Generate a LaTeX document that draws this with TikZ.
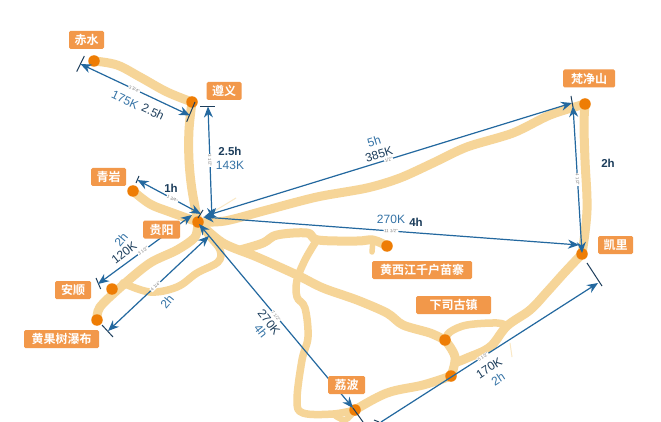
\documentclass[tikz,border=0pt]{standalone}
\usepackage{fontspec}
\setmainfont{Liberation Sans}
\newfontfamily\cjkf{Noto Sans CJK SC}[BoldFont={* Bold}]
\usetikzlibrary{arrows.meta}
\definecolor{roadc}{HTML}{F6D598}
\definecolor{dotc}{HTML}{EE7D05}
\definecolor{boxc}{HTML}{F2984A}
\definecolor{dimc}{HTML}{23689F}
\definecolor{txtd}{HTML}{1D3E5C}
\definecolor{txtb}{HTML}{3573A6}
\tikzset{
 road/.style={draw=roadc,line width=9pt,line cap=round,line join=round},
 faint/.style={draw=roadc!55,line width=1pt},
 city/.style={circle,fill=dotc,inner sep=0pt,minimum size=11.5pt},
 place/.style={fill=boxc,rounded corners=1.5pt,text=white,font=\cjkf\fontsize{12}{12}\selectfont\bfseries,inner sep=0pt,minimum height=18pt},
 dimline/.style={draw=dimc,line width=1.2pt,{Stealth[length=11pt,width=9pt]}-{Stealth[length=11pt,width=9pt]}},
 dimtick/.style={draw=txtd,line width=1pt},
 tinyl/.style={fill=white,text=gray,font=\fontsize{4.5}{5}\selectfont,inner sep=.6pt},
 valb/.style={font=\fontsize{12}{12}\selectfont,inner sep=0pt,text=txtb},
 vald/.style={font=\fontsize{12}{12}\selectfont,inner sep=0pt,text=txtd},
 valbold/.style={vald,font=\fontsize{11.5}{12}\selectfont\bfseries}
}
\begin{document}
\begin{tikzpicture}[x=1pt,y=-1pt]
\useasboundingbox[fill=white] (0,0) rectangle (661,422);
% cities
\coordinate (chishui) at (94,61);
\coordinate (zunyi) at (192,102);
\coordinate (qingyan) at (133,191);
\coordinate (guiyang) at (198,222);
\coordinate (anshun) at (112,289);
\coordinate (huangguoshu) at (97,320);
\coordinate (xijiang) at (387,246);
\coordinate (xiasi) at (445,340);
\coordinate (junction) at (451,376);
\coordinate (libo) at (355,410);
\coordinate (fanjing) at (585,104);
\coordinate (kaili) at (582,254);
% roads
\draw[road] plot[smooth,tension=.6] coordinates {(chishui) (117,65) (140,77) (167,92) (zunyi)};
\draw[road] plot[smooth,tension=.6] coordinates {(zunyi) (189,130) (189,160) (192,190) (guiyang)};
\draw[road] plot[smooth,tension=.6] coordinates {(qingyan) (150,204) (170,212) (guiyang)};
\draw[road] plot[smooth,tension=.5] coordinates {(guiyang) (225,221) (267,210) (317,197) (367,188) (400,178) (433,163) (467,147) (513,133) (550,115) (fanjing)};
\draw[road] plot[smooth,tension=.6] coordinates {(fanjing) (584,125) (585,160) (587,210) (kaili)};
\draw[road] plot[smooth,tension=.6] coordinates {(kaili) (565,272) (547,292) (530,310) (507,326) (490,347) (467,358) (457,362)};
\draw[road,line width=7.5pt] plot[smooth,tension=.6] coordinates {(507,326) (497,323) (467,325) (450,332) (xiasi)};
\draw[road] plot[smooth,tension=.6] coordinates {(xiasi) (455,357) (junction)};
\draw[road] plot[smooth,tension=.6] coordinates {(libo) (387,393) (423,385) (junction)};
\draw[road,line width=7.5pt] plot[smooth,tension=.6] coordinates {(libo) (333,414) (303,413) (297,400) (302,360) (308,337) (305,308) (297,297) (297,280) (305,260) (315,243)};
\draw[road,line width=6pt] plot[smooth,tension=.6] coordinates {(333,414) (345,420) (libo)};
\draw[road] plot[smooth,tension=.5] coordinates {(guiyang) (223,243) (257,257) (297,275) (323,288) (357,300) (387,313) (403,325) (430,333) (xiasi)};
\draw[road] plot[smooth,tension=.6] coordinates {(240,250) (263,243) (277,235) (307,233) (318,240) (357,241) (373,240) (xijiang)};
\draw[road,line width=5.5pt] plot[smooth,tension=.6] coordinates {(373,240) (372,252)};
\draw[road] plot[smooth,tension=.5] coordinates {(guiyang) (195,237) (177,250) (150,263) (123,285) (100,307) (huangguoshu)};
\draw[road,line width=7.5pt] plot[smooth,tension=.6] coordinates {(123,283) (150,292) (177,287) (197,273) (218,262) (220,250) (210,237) (guiyang)};
\draw[faint] (213,212) -- (236,198);
\draw[faint] (510,343) -- (512,357);
% city dots
\node[city] (nchishui) at (chishui) {};
\node[city] (nzunyi) at (zunyi) {};
\node[city] (nqingyan) at (qingyan) {};
\node[city] (nguiyang) at (guiyang) {};
\node[city] (nanshun) at (anshun) {};
\node[city] (nhuangguoshu) at (huangguoshu) {};
\node[city] (nxijiang) at (xijiang) {};
\node[city] (nxiasi) at (xiasi) {};
\node[city] (njunction) at (junction) {};
\node[city] (nlibo) at (libo) {};
\node[city] (nfanjing) at (fanjing) {};
\node[city] (nkaili) at (kaili) {};
% measure ends and ticks
\coordinate (a1) at (80.5,64); \coordinate (a2) at (190,115.5);
\coordinate (t1a) at (84.3,56); \coordinate (t1b) at (76.7,71.7);
\coordinate (t2a) at (195,102); \coordinate (t2b) at (186.7,121.7);
\coordinate (b1) at (208,106.5); \coordinate (b2) at (212,219);
\coordinate (t3a) at (200,106.3); \coordinate (t3b) at (214.7,106.3);
\coordinate (c1) at (137.5,180); \coordinate (c2) at (201,214);
\coordinate (t4a) at (139,176); \coordinate (t4b) at (136,183);
\coordinate (d1) at (192,215); \coordinate (d2) at (98,284);
\coordinate (t5a) at (96,278); \coordinate (t5b) at (100.7,289);
\coordinate (t6a) at (203,210); \coordinate (t6b) at (198,218);
\coordinate (e1) at (209,236); \coordinate (e2) at (108,331);
\coordinate (t7a) at (102,325); \coordinate (t7b) at (113,337);
\coordinate (f1) at (199,224); \coordinate (f2) at (353,408);
\coordinate (f3) at (363,422);
\coordinate (g2) at (598,283);
\coordinate (g1) at (381,422);
\coordinate (t8a) at (587,263); \coordinate (t8b) at (602,286);
\coordinate (t9a) at (374,420); \coordinate (t9b) at (379,422);
\coordinate (h1) at (205,216); \coordinate (h2) at (572,103);
\coordinate (t10a) at (571,96); \coordinate (t10b) at (573,107);
\coordinate (i1) at (203,217); \coordinate (i2) at (579,245);
\coordinate (j1) at (573,106); \coordinate (j2) at (582,253);
% measure lines
\draw[dimtick] (t1a) -- (t1b);
\draw[dimtick] (t2a) -- (t2b);
\draw[dimtick] (t3a) -- (t3b);
\draw[dimtick] (t4a) -- (t4b);
\draw[dimtick] (t5a) -- (t5b);
\draw[dimtick] (t6a) -- (t6b);
\draw[dimtick] (t7a) -- (t7b);
\draw[dimtick] (t8a) -- (t8b);
\draw[dimtick] (t9a) -- (t9b);
\draw[dimtick] (t10a) -- (t10b);
\draw[dimtick] (f2) -- (f3);
\draw[dimline] (a1) -- node[tinyl,sloped,pos=.49] {3 3/4"} (a2);
\draw[dimline] (b1) -- node[tinyl,sloped,pos=.48] {3 1/2"} (b2);
\draw[dimline] (c1) -- node[tinyl,sloped,pos=.55] {1 3/4"} (c2);
\draw[dimline] (d1) -- node[tinyl,sloped,pos=.52] {3 1/2"} (d2);
\draw[dimline] (e1) -- node[tinyl,sloped,pos=.53] {4 1/4"} (e2);
\draw[dimline] (f1) -- node[tinyl,sloped,pos=.5] {7 1/2"} (f2);
\draw[dimline,{Stealth[length=11pt,width=9pt]}-] (g2) -- node[tinyl,sloped,pos=.53] {5 1/2"} (g1);
\draw[dimline] (h1) -- node[tinyl,sloped,pos=.5] {1/2"} (h2);
\draw[dimline] (i1) -- node[tinyl,sloped,pos=.5] {11 1/2"} (i2);
\draw[dimline] (j1) -- node[tinyl,sloped,pos=.5] {4 1/2"} (j2);
% values
\node[valb,rotate=-25] (v1) at (125,100) {175K};
\node[vald,rotate=-25] (v2) at (153,112) {2.5h};
\node[valbold] (v3) at (230,151) {2.5h};
\node[valb] (v4) at (230,165) {143K};
\node[valbold] (v5) at (171,188) {1h};
\node[valb,rotate=50] (v6) at (121,240) {2h};
\node[vald,rotate=38] (v7) at (124,253) {120K};
\node[valb,rotate=50] (v8) at (167,302) {2h};
\node[vald,rotate=-52] (v9) at (269,322) {270K};
\node[valb,rotate=-52] (v10) at (261,331) {4h};
\node[vald,rotate=17] (v11) at (379,154) {385K};
\node[valb,rotate=17] (v12) at (374,141) {5h};
\node[valb] (v13) at (391,219) {270K};
\node[valbold] (v14) at (416,222) {4h};
\node[valbold] (v15) at (608,163) {2h};
\node[vald,rotate=33] (v16) at (489,368) {170K};
\node[valb,rotate=33] (v17) at (498,379) {2h};
% place labels
\node[place,minimum width=35pt] (lchishui) at (86.5,40) {赤水};
\node[place,minimum width=35pt] (lzunyi) at (224,91) {遵义};
\node[place,minimum width=35pt] (lqingyan) at (108.5,177) {青岩};
\node[place,minimum width=37pt] (lguiyang) at (161.5,229.5) {贵阳};
\node[place,minimum width=36pt] (lanshun) at (73,290) {安顺};
\node[place,minimum width=75pt] (lhgs) at (61.5,339) {黄果树瀑布};
\node[place,minimum width=100pt] (lxijiang) at (422,270) {黄西江千户苗寨};
\node[place,minimum width=75pt] (lxiasi) at (453.5,305) {下司古镇};
\node[place,minimum width=37pt] (llibo) at (346.5,385) {荔波};
\node[place,minimum width=52pt] (lfanjing) at (589,78.5) {梵净山};
\node[place,minimum width=35pt] (lkaili) at (615.5,245) {凯里};
\end{tikzpicture}
\end{document}
